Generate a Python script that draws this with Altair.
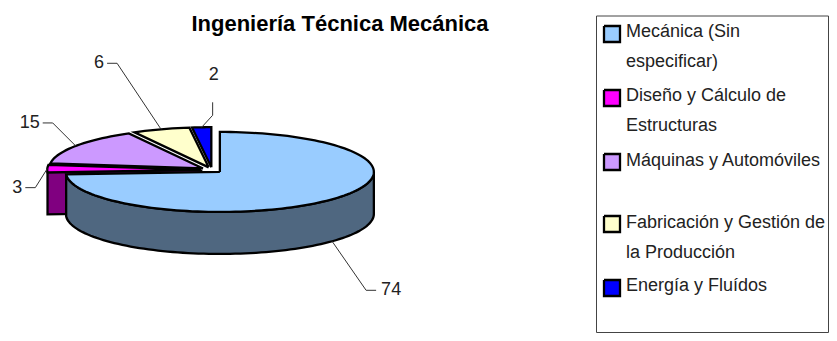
import math
import altair as alt
import pandas as pd

TITLE = "Ingeniería Técnica Mecánica"
categories = ["Mecánica (Sin especificar)", "Diseño y Cálculo de Estructuras",
              "Máquinas y Automóviles", "Fabricación y Gestión de la Producción", "Energía y Fluídos"]
values = [74, 3, 15, 6, 2]
colors = ["#99CCFF", "#FF00FF", "#CC99FF", "#FFFFCC", "#0000FF"]
legend_lines = [["Mecánica (Sin", "especificar)"], ["Diseño y Cálculo de", "Estructuras"],
                ["Máquinas y Automóviles"], ["Fabricación y Gestión de", "la Producción"],
                ["Energía y Fluídos"]]

# layout
W, H = 821, 325
CX, CY, RX, RY, DEPTH, EXPLODE = 212, 170, 154, 40, 42, 0.07
FONT = "Liberation Sans"
TEXT = "#222222"
x_enc = alt.X("x:Q", scale=alt.Scale(domain=[8, 8 + W]), axis=None)
y_enc = alt.Y("y:Q", scale=alt.Scale(domain=[8, 8 + H], reverse=True), axis=None)


def rim(cx, cy, deg, dy=0):
    a = math.radians(deg)
    return cx + RX * math.sin(a), cy - RY * math.cos(a) + dy


def poly(points, fill, width=2.3, stroke="#000000"):
    df = pd.DataFrame([{"x": p[0], "y": p[1], "i": i} for i, p in enumerate(points + points[:1])])
    return alt.Chart(df).mark_line(fill=fill, stroke=stroke, strokeWidth=width,
                                   strokeJoin="miter", interpolate="linear", clip=False).encode(
        x=x_enc, y=y_enc, order="i:Q")


def sweep(cx, cy, a0, a1, dy=0, n=90):
    return [rim(cx, cy, a0 + (a1 - a0) * k / n, dy) for k in range(n + 1)]


total = sum(values)
slices = []
start = 0.0
for v in values:
    end = start + 360.0 * v / total
    mid = (start + end) / 2
    a = math.radians(mid)
    slices.append(dict(a0=start, a1=end, mid=mid,
                       cx=CX + EXPLODE * RX * math.sin(a),
                       cy=CY - EXPLODE * RY * math.cos(a)))
    start = end

layers = []
s = slices[1]
face = [(s["cx"], s["cy"]), rim(s["cx"], s["cy"], s["a0"]),
        rim(s["cx"], s["cy"], s["a0"], DEPTH), (s["cx"], s["cy"] + DEPTH)]
layers.append(poly(face, "#800080"))
m = slices[0]
layers.append(poly(sweep(m["cx"], m["cy"], 90, m["a1"]) + sweep(m["cx"], m["cy"], m["a1"], 90, DEPTH), "#4F6780"))
for idx in [0, 2, 3, 4, 1]:
    s = slices[idx]
    n = max(8, int((s["a1"] - s["a0"]) / 2))
    layers.append(poly([(s["cx"], s["cy"])] + sweep(s["cx"], s["cy"], s["a0"], s["a1"], n=n), colors[idx]))

lead_offsets = [(34, 49, 44), (-12, 19, -12), (-23, -23, -10), (-44, -66, -12), (11, -12, 0)]
lead_rows, label_rows = [], []
for k, (s, v, off) in enumerate(zip(slices, values, lead_offsets)):
    base_dy = DEPTH if k == 0 else 0
    ax, ay = rim(s["cx"], s["cy"], s["mid"], base_dy)
    ex, ey = ax + off[0], ay + off[1]
    if k == 4:
        pts = [(ax, ay), (ex, ey), (ex, ey - 13)]
        lx, ly, al = ex + 1, ey - 40, "center"
    else:
        tip = ex + (10 if off[2] > 0 else -10)
        pts = [(ax, ay), (ex, ey), (tip, ey)]
        lx, ly, al = tip + (5 if off[2] > 0 else -3), ey, "left" if off[2] > 0 else "right"
    lead_rows += [{"x": p[0], "y": p[1], "i": i, "k": k} for i, p in enumerate(pts)]
    label_rows.append({"x": lx, "y": ly, "t": str(v), "a": al})

layers.append(alt.Chart(pd.DataFrame(lead_rows)).mark_line(color="#333333", strokeWidth=1).encode(
    x=x_enc, y=y_enc, detail="k:N", order="i:Q"))
for al in ["left", "right", "center"]:
    sub = [r for r in label_rows if r["a"] == al]
    layers.append(alt.Chart(pd.DataFrame(sub)).mark_text(font=FONT, fontSize=18, color=TEXT, align=al, baseline="middle").encode(
        x=x_enc, y=y_enc, text="t:N"))

layers.append(alt.Chart(pd.DataFrame([{"x": 340, "y": 24, "t": TITLE}])).mark_text(
    font="Liberation Sans", fontWeight="bold", fontSize=22, color="#000000", align="center", baseline="middle").encode(
    x=x_enc, y=y_enc, text="t:N"))

layers.append(poly([(596.5, 16), (828.5, 16), (828.5, 332.5), (596.5, 332.5)], "#FFFFFF", 1.0, "#444444"))

swatch_y = [34, 98, 162, 224, 288]
line_y = [[32, 62], [96, 126], [161], [223, 253], [286]]
text_rows = []
for c, sy, lines, ys in zip(colors, swatch_y, legend_lines, line_y):
    h = 8
    layers.append(poly([(604, sy - h), (620, sy - h), (620, sy + h), (604, sy + h)], c))
    text_rows += [{"x": 626, "y": y, "t": t} for t, y in zip(lines, ys)]
layers.append(alt.Chart(pd.DataFrame(text_rows)).mark_text(font=FONT, fontSize=18, color=TEXT, align="left", baseline="middle").encode(
    x=x_enc, y=y_enc, text="t:N"))

chart = alt.layer(*layers).properties(width=W, height=H, padding=0, autosize=alt.AutoSizeParams(type="none")).configure_view(stroke=None)
chart.save("out.html", embed_options={"renderer": "svg", "actions": False})
